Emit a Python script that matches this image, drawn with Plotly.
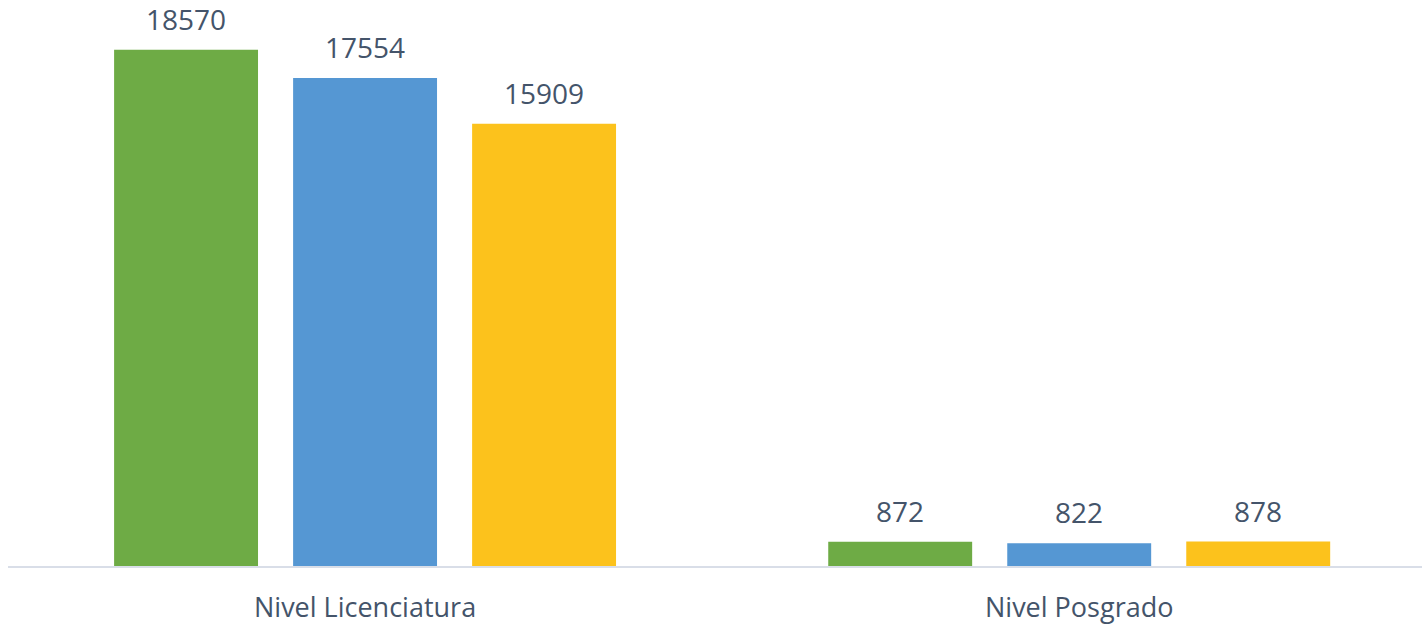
import plotly.graph_objects as go

categories = ["Nivel Licenciatura", "Nivel Posgrado"]
series_names = ["Serie 1", "Serie 2", "Serie 3"]
values_s1 = [18570, 872]
values_s2 = [17554, 822]
values_s3 = [15909, 878]
colors = ["#6EAB45", "#5597D3", "#FCC21C"]

series = [values_s1, values_s2, values_s3]

FONT = "Open Sans, Liberation Sans, Arial, sans-serif"
BARGAP = 0.248

fig = go.Figure()
for name, vals, col in zip(series_names, series, colors):
    fig.add_trace(go.Bar(
        x=categories, y=vals, name=name,
        marker=dict(color=col, line=dict(width=0)),
    ))

# data labels as annotations above each bar
n = len(series)
slot = (1 - BARGAP) / n
for i, vals in enumerate(series):
    off = -(1 - BARGAP) / 2 + slot * (i + 0.5)
    for j, v in enumerate(vals):
        fig.add_annotation(
            x=j + off, y=v, xref="x", yref="y", text=str(v),
            showarrow=False, yanchor="bottom", yshift=10,
            font=dict(family=FONT, size=28, color="#44546A"),
        )

fig.update_layout(
    width=1422, height=624,
    margin=dict(l=8, r=0, t=10, b=58, autoexpand=False),
    paper_bgcolor="white", plot_bgcolor="white",
    barmode="group", bargap=BARGAP, bargroupgap=0.196,
    showlegend=False,
    xaxis=dict(
        type="category", range=[-0.5, 1.48], automargin=False,
        showline=True, linecolor="#D9DEE8", linewidth=2,
        showgrid=False, ticks="", zeroline=False,
        tickfont=dict(family=FONT, size=27, color="#44546A"),
        ticklabelstandoff=17,
    ),
    yaxis=dict(
        range=[0, 20000], visible=False, showgrid=False, zeroline=False,
        automargin=False,
    ),
)

fig.write_html(
    "out.html",
    config={"displayModeBar": False},
    post_script="document.body.style.margin='0';document.body.style.overflow='hidden';",
)
